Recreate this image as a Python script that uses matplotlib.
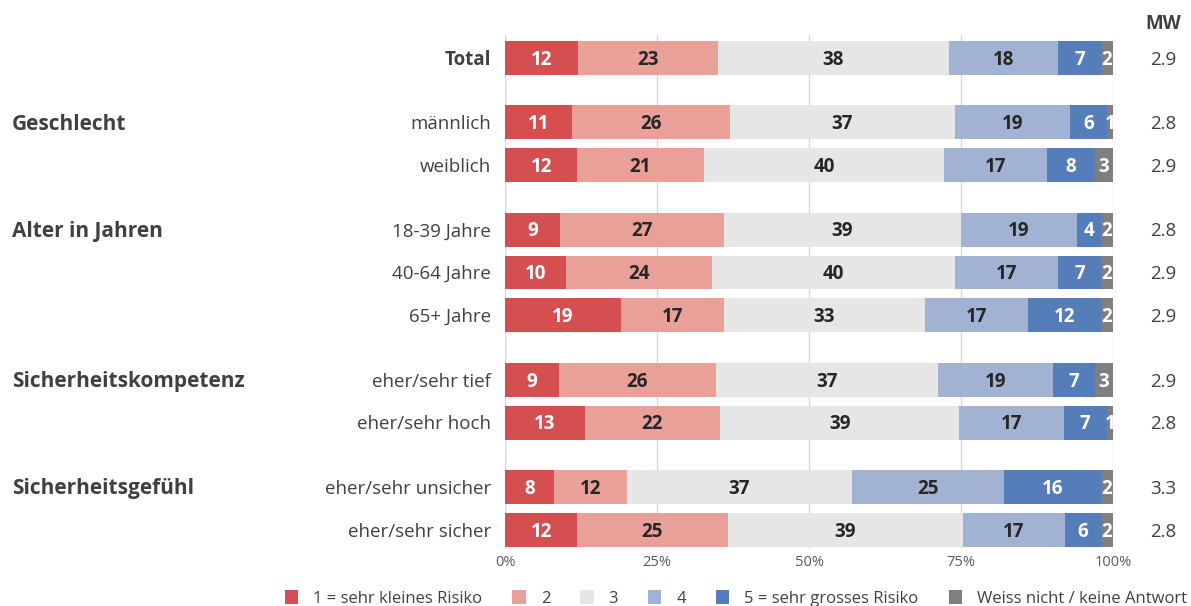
import numpy as np
import matplotlib
matplotlib.use("Agg")
import matplotlib.pyplot as plt
from matplotlib.patches import Patch

plt.rcParams['font.family'] = ['Open Sans', 'DejaVu Sans']

# 데이터
rows = ["Total", "männlich", "weiblich", "18-39 Jahre", "40-64 Jahre", "65+ Jahre",
        "eher/sehr tief", "eher/sehr hoch", "eher/sehr unsicher", "eher/sehr sicher"]
groups = ["Geschlecht", "Alter in Jahren", "Sicherheitskompetenz", "Sicherheitsgefühl"]
group_first_row = [1, 3, 6, 8]
categories = ["1 = sehr kleines Risiko", "2", "3", "4", "5 = sehr grosses Risiko",
              "Weiss nicht / keine Antwort"]
s1 = [12, 11, 12, 9, 10, 19, 9, 13, 8, 12]
s2 = [23, 26, 21, 27, 24, 17, 26, 22, 12, 25]
s3 = [38, 37, 40, 39, 40, 33, 37, 39, 37, 39]
s4 = [18, 19, 17, 19, 17, 17, 19, 17, 25, 17]
s5 = [7, 6, 8, 4, 7, 12, 7, 7, 16, 6]
s6 = [2, 1, 3, 2, 2, 2, 3, 1, 2, 2]
mw = ["2.9", "2.8", "2.9", "2.8", "2.9", "2.9", "2.9", "2.8", "3.3", "2.8"]

colors = ["#D64F50", "#E8A099", "#E6E6E6", "#A2B2D3", "#547DBA", "#7F7F7F"]
txt_colors = ["white", "#262626", "#262626", "#262626", "white", "white"]
dark = "#404040"

# 행 위치 (그룹 사이 간격)
ypos = np.array([0, 1.5, 2.5, 4, 5, 6, 7.5, 8.5, 10, 11])
dy = 0.04  # 글자 세로 보정

fig = plt.figure(figsize=(11.91, 6.06), dpi=100)
ax = fig.add_axes([505 / 1191, 1 - 548 / 606, 608 / 1191, 513 / 606])

series = np.array([s1, s2, s3, s4, s5, s6], dtype=float)
shares = series / series.sum(axis=0) * 100
left = np.zeros(len(rows))
for k in range(6):
    ax.barh(ypos, shares[k], left=left, height=0.79, color=colors[k], zorder=2)
    for i in range(len(rows)):
        ax.text(left[i] + shares[k][i] / 2, ypos[i] + dy, str(int(series[k][i])),
                ha='center', va='center', fontsize=13.5, fontweight='bold',
                color=txt_colors[k], zorder=3, clip_on=False)
    left += shares[k]

ax.set_xlim(0, 100)
ax.set_ylim(11.42, -0.535)
ax.set_xticks([0, 25, 50, 75, 100])
ax.set_xticklabels(["0%", "25%", "50%", "75%", "100%"], fontsize=10.5, color="#595959")
ax.tick_params(axis='x', length=0, pad=5)
ax.set_yticks([])
for s in ax.spines.values():
    s.set_visible(False)
ax.grid(axis='x', color="#D9D9D9", linewidth=1, zorder=0)
ax.axvline(0, color="#D9D9D9", linewidth=1, zorder=0)

# 행 라벨
for i, r in enumerate(rows):
    ax.text(-2.3, ypos[i] + dy, r, ha='right', va='center', fontsize=13.5, color=dark,
            fontweight='bold' if r == "Total" else 'normal')
    ax.text(108.3, ypos[i] + dy, mw[i], ha='center', va='center', fontsize=13.5, color=dark)
ax.text(108.3, -0.8, "MW", ha='center', va='center', fontsize=13.5, color=dark,
        fontweight='bold')

# 그룹 라벨
for g, j in zip(groups, group_first_row):
    y_fig = ax.transData.transform((0, ypos[j] + dy))[1] / fig.bbox.height
    fig.text(12 / 1191, y_fig, g, ha='left', va='center', fontsize=15,
             fontweight='bold', color=dark)

handles = [Patch(facecolor=c) for c in colors]
fig.legend(handles, categories, loc='center', bbox_to_anchor=(0.618, 0.013), ncol=6,
           frameon=False, fontsize=12, handlelength=0.8, handleheight=1.0,
           columnspacing=1.8, handletextpad=0.9, labelcolor=dark)

fig.savefig("out.png", dpi=100)
